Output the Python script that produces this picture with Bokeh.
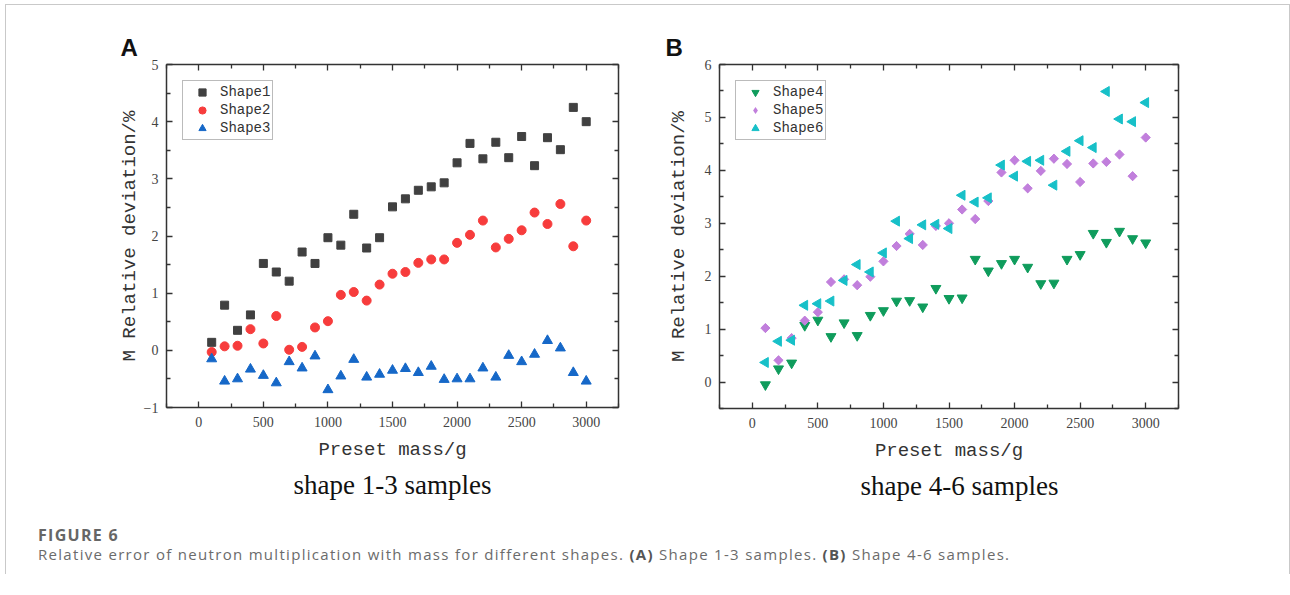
from bokeh.plotting import figure
from bokeh.models import (Range1d, LinearAxis, FixedTicker, Title, Div, Column, Row,
                          CustomJSTickFormatter)
from bokeh.embed import file_html
from bokeh.resources import INLINE
import math

# ---------------- data ----------------
mass = [100, 200, 300, 400, 500, 600, 700, 800, 900, 1000,
        1100, 1200, 1300, 1400, 1500, 1600, 1700, 1800, 1900, 2000,
        2100, 2200, 2300, 2400, 2500, 2600, 2700, 2800, 2900, 3000]

shape1 = [0.14, 0.79, 0.35, 0.62, 1.52, 1.37, 1.21, 1.72, 1.52, 1.97,
          1.84, 2.38, 1.79, 1.97, 2.51, 2.65, 2.80, 2.86, 2.93, 3.28,
          3.62, 3.35, 3.64, 3.37, 3.74, 3.23, 3.72, 3.51, 4.25, 4.00]
shape2 = [-0.03, 0.07, 0.08, 0.37, 0.12, 0.60, 0.01, 0.06, 0.40, 0.51,
          0.97, 1.02, 0.87, 1.15, 1.34, 1.37, 1.53, 1.59, 1.59, 1.88,
          2.02, 2.27, 1.80, 1.95, 2.10, 2.41, 2.21, 2.56, 1.82, 2.27]
shape3 = [-0.15, -0.54, -0.50, -0.33, -0.44, -0.57, -0.20, -0.31, -0.10, -0.69,
          -0.45, -0.16, -0.47, -0.42, -0.35, -0.32, -0.39, -0.28, -0.51, -0.50,
          -0.50, -0.31, -0.47, -0.09, -0.20, -0.07, 0.17, 0.04, -0.39, -0.54]

shape4 = [-0.05, 0.25, 0.36, 1.07, 1.17, 0.86, 1.12, 0.88, 1.26, 1.35,
          1.53, 1.54, 1.42, 1.77, 1.58, 1.59, 2.32, 2.10, 2.24, 2.32,
          2.17, 1.86, 1.87, 2.32, 2.41, 2.81, 2.64, 2.85, 2.71, 2.63]
shape5 = [1.02, 0.41, 0.83, 1.16, 1.32, 1.89, 1.94, 1.83, 1.99, 2.28,
          2.57, 2.80, 2.59, 2.95, 3.00, 3.26, 3.08, 3.42, 3.96, 4.19,
          3.66, 3.99, 4.22, 4.12, 3.78, 4.13, 4.16, 4.30, 3.89, 4.62]
shape6 = [0.37, 0.77, 0.79, 1.45, 1.48, 1.53, 1.92, 2.22, 2.08, 2.44,
          3.04, 2.71, 2.97, 2.98, 2.90, 3.53, 3.40, 3.48, 4.10, 3.89,
          4.17, 4.19, 3.72, 4.36, 4.56, 4.43, 5.49, 4.97, 4.92, 5.28]

x_ticks = [0, 500, 1000, 1500, 2000, 2500, 3000]
x_minor = [-250, 250, 750, 1250, 1750, 2250, 2750, 3250]
yA_ticks = [-1, 0, 1, 2, 3, 4, 5]
yA_minor = [-0.5, 0.5, 1.5, 2.5, 3.5, 4.5]
yB_ticks = [0, 1, 2, 3, 4, 5, 6]
yB_minor = [-0.5, 0.5, 1.5, 2.5, 3.5, 4.5, 5.5]

x_label = "Preset mass/g"
y_label = "M Relative deviation/%"

AXIS_COL = "#333333"
TICK_FONT = "Liberation Serif"
LABEL_FONT = "Liberation Mono"


def style_axis(ax, ticks, minor, show_labels, label_standoff, axis_label=None, axis_label_standoff=0):
    ax.ticker = FixedTicker(ticks=ticks, minor_ticks=minor)
    ax.axis_line_color = AXIS_COL
    ax.axis_line_width = 1.5
    ax.major_tick_line_color = AXIS_COL
    ax.minor_tick_line_color = AXIS_COL
    ax.major_tick_line_width = 1.3
    ax.minor_tick_line_width = 1.3
    ax.major_tick_in = 6
    ax.major_tick_out = 0
    ax.minor_tick_in = 4
    ax.minor_tick_out = 0
    ax.major_label_text_font = TICK_FONT
    ax.major_label_text_font_size = "14px"
    ax.major_label_text_color = "#444444"
    ax.major_label_standoff = label_standoff
    if not show_labels:
        ax.formatter = CustomJSTickFormatter(code="return ''")
    if axis_label:
        ax.axis_label = axis_label
        ax.axis_label_text_font = LABEL_FONT
        ax.axis_label_text_font_size = "19px"
        ax.axis_label_text_font_style = "normal"
        ax.axis_label_text_color = "#333333"
        ax.axis_label_standoff = axis_label_standoff


def make_panel(yrange, yticks, yminor, frame_w, frame_h, mb_left, mb_right, mb_top, mb_bottom,
               y_lab_standoff, letter, letter_offset, subtitle, sub_align, sub_offset):
    p = figure(x_range=Range1d(-250, 3250), y_range=Range1d(*yrange),
               frame_width=frame_w, frame_height=frame_h,
               min_border_left=mb_left, min_border_right=mb_right,
               min_border_top=mb_top, min_border_bottom=mb_bottom,
               output_backend="svg", toolbar_location=None,
               background_fill_color="white", border_fill_color="white")
    p.xgrid.visible = False
    p.ygrid.visible = False
    p.outline_line_color = None
    style_axis(p.xaxis[0], x_ticks, x_minor, True, 9, x_label, 9)
    style_axis(p.yaxis[0], yticks, yminor, True, 8, y_label, y_lab_standoff)
    top = LinearAxis()
    style_axis(top, x_ticks, x_minor, False, 0)
    right = LinearAxis()
    style_axis(right, yticks, yminor, False, 0)
    p.add_layout(top, "above")
    p.add_layout(right, "right")
    # panel letter
    p.title.text = letter
    p.title.align = "left"
    p.title.offset = letter_offset
    p.title.standoff = 8
    p.title.text_font = "Liberation Sans"
    p.title.text_font_size = "24px"
    p.title.text_font_style = "bold"
    p.title.text_color = "#111111"
    # sub caption under the panel
    p.add_layout(Title(text=subtitle, align=sub_align, offset=sub_offset, standoff=9,
                       text_font="Liberation Serif", text_font_size="27px",
                       text_font_style="normal", text_color="#111111"), "below")
    return p


def style_legend(p):
    lg = p.legend[0]
    lg.location = "top_left"
    lg.margin = 16
    lg.padding = 2
    lg.spacing = 0
    lg.label_height = 18
    lg.glyph_height = 18
    lg.glyph_width = 34
    lg.label_standoff = 1
    lg.border_line_color = "#777777"
    lg.border_line_width = 1
    lg.background_fill_color = "white"
    lg.background_fill_alpha = 1
    lg.label_text_font = LABEL_FONT
    lg.label_text_font_size = "14px"
    lg.label_text_color = "#333333"


# ---------------- panel A ----------------
pA = make_panel((-1, 5), yA_ticks, yA_minor, 452, 343, 160, 43, 58, 108, 0,
                "A", -46, "shape 1-3 samples", "center", 0)
pA.scatter(mass, shape1, marker="square", size=8, fill_color="#404040", line_color="#404040",
           legend_label="Shape1")
pA.scatter(mass, shape2, marker="circle", size=9, fill_color="#f73c3c", line_color="#f73c3c",
           legend_label="Shape2")
pA.scatter(mass, shape3, marker="triangle", size=10, fill_color="#1668c8", line_color="#1668c8",
           legend_label="Shape3")
style_legend(pA)

# ---------------- panel B ----------------
pB = make_panel((-0.5, 6), yB_ticks, yB_minor, 459, 344, 58, 111, 59, 106, 12,
                "B", -54, "shape 4-6 samples", "left", 141)
pB.scatter(mass, shape4, marker="inverted_triangle", size=10, fill_color="#0f9c5c",
           line_color="#0f9c5c", legend_label="Shape4")
# diamond key for the legend (drawn under the rotated squares, which cover it)
pB.scatter(mass, shape5, marker="diamond", size=9.5, fill_color="#c17fdc", line_color=None,
           legend_label="Shape5")
pB.scatter(mass, shape5, marker="square", angle=math.pi / 4, size=6.5, fill_color="#c17fdc",
           line_color="#c17fdc")
pB.scatter(mass, shape6, marker="triangle", angle=math.pi / 2, size=10, fill_color="#17c0c8",
           line_color="#17c0c8", legend_label="Shape6")
style_legend(pB)

caption_html = (
    "<div style=\"padding:12px 0 0 32px; font-family:'Open Sans'; color:#6b6b6b;\">"
    "<div style=\"font-weight:700; font-size:16px; line-height:19px; letter-spacing:1.3px; "
    "color:#666666;\">FIGURE 6</div>"
    "<div style=\"font-size:15px; line-height:19px; letter-spacing:1.3px;\">"
    "Relative error of neutron multiplication with mass for different shapes. "
    "<b style='color:#555'>(A)</b> Shape 1-3 samples. <b style='color:#555'>(B)</b> Shape 4-6 samples."
    "</div></div>"
)
caption = Div(text=caption_html, width=1283, height=60, margin=0)

root = Column(children=[Row(children=[pA, pB]), caption],
              margin=(4, 0, 0, 5),
              styles={"border-top": "1px solid #c9c9c9", "border-left": "1px solid #c9c9c9",
                      "border-right": "1px solid #c9c9c9", "background": "white"})

open("out.html", "w").write(file_html(root, INLINE))
